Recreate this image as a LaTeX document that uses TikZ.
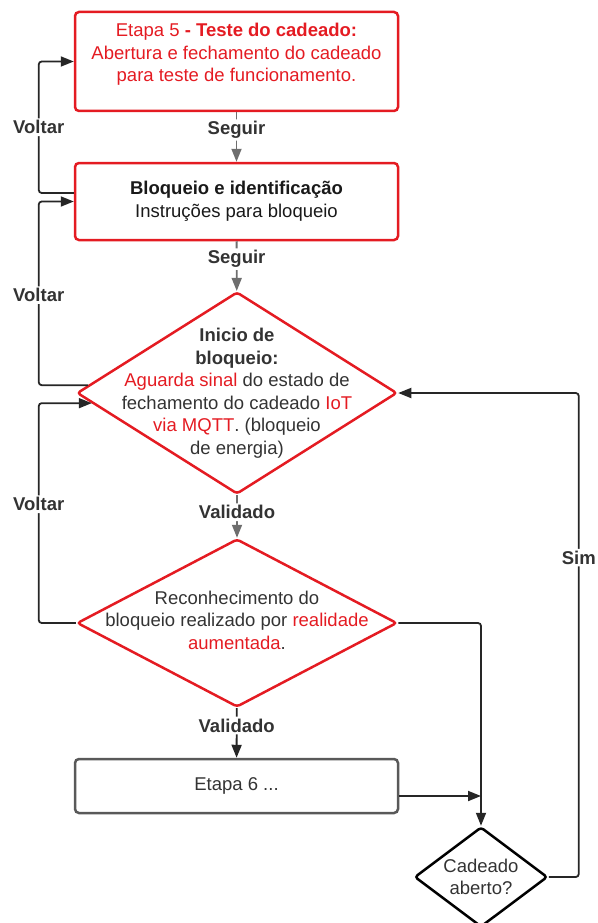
\documentclass[tikz,border=0pt]{standalone}
\usepackage{fontspec}
\setmainfont{Liberation Sans}
\usetikzlibrary{shapes.geometric,arrows.meta}
\definecolor{lred}{HTML}{E41B22}
\definecolor{dtext}{HTML}{333333}
\definecolor{garrow}{HTML}{6E6E6E}
\newcommand{\fs}{\fontsize{18.5}{22.5}\selectfont}
\tikzset{
	box/.style={draw=lred, line width=2.5pt, rounded corners=4pt, minimum width=323pt, inner sep=2pt, align=center},
	dia/.style={diamond, draw=lred, line width=2.5pt, rounded corners=3pt, inner sep=0pt},
	flow/.style={line width=1.8pt, draw=black!85, rounded corners=3pt, -{Triangle[length=13pt,width=10pt]}},
	lbl/.style={fill=white, font=\fs\bfseries, text=dtext, inner sep=2pt},
}
\begin{document}
\begin{tikzpicture}[x=1pt,y=-1pt,font=\fs,text=dtext]
		\useasboundingbox (0,0) rectangle (597,923);
		% steps
		\node[box, minimum height=99pt, text=lred] (b1) at (236.5,61.5) {Etapa 5 \textbf{- Teste do cadeado:}\\Abertura e fechamento do cadeado\\para teste de funcionamento.\\[-11pt]\strut};
		\node[box, minimum height=77pt, text=black!90] (b2) at (236.5,201.5) {\textbf{Bloqueio e identificação}\\Instruções para bloqueio};
		\node[dia, minimum width=320pt, minimum height=202pt] (d1) at (237,393) {};
		\node[align=center] (t1) at (d1) {\textbf{Inicio de}\\\textbf{bloqueio:}\\\textcolor{lred}{Aguarda sinal} do estado de\\fechamento do cadeado \textcolor{lred}{IoT}\\\textcolor{lred}{via MQTT}. (bloqueio\\de energia)};
		\node[dia, minimum width=320pt, minimum height=168pt] (d2) at (237,623) {};
		\node[align=center] (t2) at ([yshift=3pt]d2) {Reconhecimento do\\bloqueio realizado por \textcolor{lred}{realidade}\\\textcolor{lred}{aumentada}.};
		\node[box, draw=black!65, minimum height=54pt] (b6) at (236.5,786) {Etapa 6 ...};
		\node[dia, draw=black, minimum width=133pt, minimum height=100pt] (d3) at (481,877) {};
		\node[align=center] (t3) at (d3) {Cadeado\\aberto?};
		% forward
		\draw[flow, draw=garrow] (b1) -- node[lbl,pos=0.36]{Seguir} (b2);
		\draw[flow, draw=garrow] (b2) -- node[lbl,pos=0.36]{Seguir} (d1);
		\draw[flow, draw=garrow] (d1) -- node[lbl,pos=0.4]{Validado} (d2);
		\draw[flow] (d2) -- node[lbl,pos=0.35]{Validado} (b6);
		\draw[flow] (d2.east) -| (d3.north);
		\draw[flow] ([yshift=-10pt]b6.east) -- ([yshift=-10pt]b6.east -| d3.north);
		\draw[flow] (d3.east) -- ++(30,0) coordinate (s1) -- node[lbl,pos=0.66]{Sim} (s1 |- d1.east) -- (d1.east);
		% back
		\draw[flow] ([yshift=8.5pt]b2.west) -- ++(-35,0) coordinate (v1) -- node[lbl]{Voltar} (v1 |- b1.west) -- (b1.west);
		\draw[flow] (d1.177) -- (d1.177 -| v1) -- node[lbl,pos=0.49]{Voltar} (v1 |- b2.west) -- (b2.west);
		\draw[flow] (d2.west) -- (d2.west -| v1) -- node[lbl,pos=0.54]{Voltar} (v1 |- d1.184) -- (d1.184);
\end{tikzpicture}
\end{document}
